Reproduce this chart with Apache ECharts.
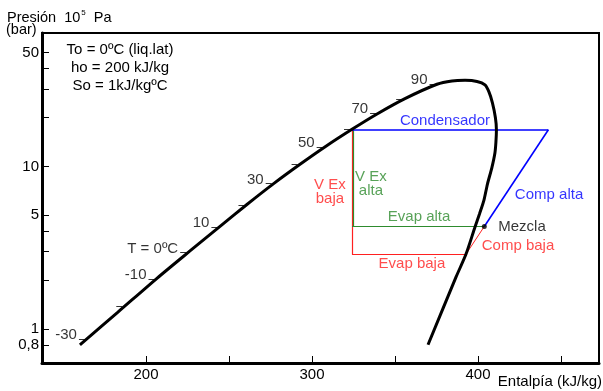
<!DOCTYPE html>
<html>
<head>
<meta charset="utf-8">
<script src="https://cdn.jsdelivr.net/npm/echarts@6/dist/echarts.min.js"></script>
<style>
    html, body { margin: 0; padding: 0; background: #fff; }
    #chart { width: 603px; height: 391px; }
</style>
</head>
<body>
<div id="chart"></div>
<script>
// curva de saturación: entalpía (kJ/kg) y presión (bar)
let satH = [160.2, 183.1, 206.6, 226.5, 244.6, 260.8, 277.1, 292.8, 308.4, 324.1, 339.2, 356.0, 375.3,
    384.3, 392.2, 399.4, 404.2, 406.6, 408.7, 410.5, 411.1, 410.8, 410.2, 408.3, 405.7, 403.6, 400.9,
    398.2, 392.8, 386.8, 369.9]
let satP = [0.8, 1.27, 2.05, 3.02, 4.28, 5.83, 7.86, 10.3, 13.3, 16.9, 21.0, 26.1, 32.0,
    33.5, 33.8, 33.3, 31.7, 28.7, 24.6, 19.9, 16.75, 14.1, 12.1, 9.77, 7.79, 6.21, 5.10,
    4.24, 2.89, 2.09, 0.8]
// isotermas marcadas sobre la línea de líquido (cada 10 ºC)
let tempLabels = ['-30', '', '-10', 'T = 0ºC', '10', '', '30', '', '50', '', '70', '', '90']
let tempH = [164.4, 186.9, 206.3, 225.4, 244.2, 260.5, 276.9, 292.5, 307.6, 324.1, 339.8, 355.5, 375.6]
let tempP = [0.87, 1.375, 2.035, 2.95, 4.24, 5.79, 7.84, 10.27, 13.1, 16.9, 21.2, 25.9, 32.1]
// puntos del ciclo
let hValve = 324.1, hCompAlta = 442.4, hMix = 403.8, hEvapBaja = 392.6
let pCond = 16.8, pMix = 4.27, pBaja = 2.87
// rótulos del ciclo
let cycleText = ['Condensador', 'Comp alta', 'Mezcla', 'Comp baja', 'Evap alta', 'Evap baja', 'V Ex\nalta', 'V Ex\nbaja']
let cycleTextH = [380.1, 442.8, 426.5, 424.1, 364.5, 360.2, 335.5, 310.8]
let cycleTextP = [19.0, 6.67, 4.24, 3.25, 4.86, 2.51, 7.8, 6.99]
let cycleTextColor = ['#0000ff', '#0000ff', '#000', '#ff2020', '#2e8b2e', '#ff2020', '#2e8b2e', '#ff2020']
// ejes
let xTicks = [200, 250, 300, 350, 400, 450]
let xLabels = [200, 300, 400]
let yTicks = [0.8, 1, 2, 3, 4, 5, 10, 20, 30, 40, 50]
let yLabels = [0.8, 1, 5, 10, 50]

let font = "'Liberation Sans', Arial, sans-serif"
let red = '#ff2020', green = '#2e8b2e', blue = '#0000ff'

let seg = function (a, b, color, width) {
    return { coords: [a, b], lineStyle: { color: color, width: width } }
}
let cycleSegs = [
    seg([hValve, pCond], [hValve, pBaja], red, 1.2),
    seg([hValve, pBaja], [hEvapBaja, pBaja], red, 1.2),
    seg([hEvapBaja, pBaja], [hMix, pMix], red, 1),
    seg([hValve + 0.6, pCond], [hValve + 0.6, pMix], green, 1.2),
    seg([hValve, pMix], [hMix, pMix], green, 1.2),
    seg([hValve, pCond], [hCompAlta, pCond], blue, 1.6),
    seg([hCompAlta, pCond], [hMix, pMix], blue, 1.6)
]

// rayitas de temperatura a la izquierda de la curva
let dashSegs = tempH.map(function (h, i) {
    return { coords: [[h - 4.8, tempP[i]], [h - 1.2, tempP[i]]] }
})
let tempPts = []
tempLabels.forEach(function (t, i) {
    if (t) tempPts.push({ value: [tempH[i] - 4.8, tempP[i]], label: { formatter: t } })
})
let labelPts = cycleText.map(function (t, i) {
    return {
        value: [cycleTextH[i], cycleTextP[i]],
        label: { formatter: t, color: cycleTextColor[i], lineHeight: i >= 6 ? 14 : 15 }
    }
})

let myChart = echarts.init(document.getElementById('chart'))
myChart.setOption({
    animation: false,
    textStyle: { fontFamily: font, fontSize: 15, color: '#000' },
    grid: {
        left: 42, right: 4, top: 33, bottom: 28,
        show: true, borderColor: '#000', borderWidth: 2,
        outerBoundsMode: 'none'
    },
    xAxis: {
        type: 'value',
        min: 137.35,
        max: 472.9,
        axisLine: { onZero: false, lineStyle: { color: '#000', width: 3 } },
        axisTick: { inside: true, length: 7, customValues: xTicks, lineStyle: { color: '#000', width: 1 } },
        axisLabel: { customValues: xLabels, color: '#000', fontSize: 15, fontFamily: font, margin: 4 },
        splitLine: { show: false }
    },
    yAxis: {
        type: 'log',
        logBase: 10,
        min: 0.618,
        max: 66.1,
        axisLine: { show: true, onZero: false, lineStyle: { color: '#000', width: 3 } },
        axisTick: { show: true, inside: true, length: 7, customValues: yTicks, lineStyle: { color: '#000', width: 1 } },
        axisLabel: {
            customValues: yLabels, color: '#000', fontSize: 15, fontFamily: font, margin: 3,
            formatter: function (v) { return String(v).replace('.', ',') }
        },
        splitLine: { show: false }
    },
    graphic: [
        {
            type: 'text', x: 7, y: 9,
            style: {
                text: '{a|Presión  10}{s|5}{a| Pa}',
                fontFamily: font,
                rich: {
                    a: { fontSize: 14.5, fontFamily: font, lineHeight: 16, verticalAlign: 'bottom' },
                    s: { fontSize: 8, fontFamily: font, lineHeight: 16, verticalAlign: 'top', padding: [0, 4, 0, 1] }
                }
            }
        },
        {
            type: 'text', x: 6, y: 30,
            style: { text: '(bar)', fontFamily: font, fontSize: 14.5, verticalAlign: 'middle' }
        },
        {
            type: 'text', x: 120, y: 41,
            style: {
                text: 'To = 0ºC (liq.lat)\nho = 200 kJ/kg\nSo = 1kJ/kgºC',
                fontFamily: font, fontSize: 15, lineHeight: 18, align: 'center', verticalAlign: 'top'
            }
        },
        {
            type: 'text', x: 602, y: 382,
            style: { text: 'Entalpía (kJ/kg)', fontFamily: font, fontSize: 15, align: 'right', verticalAlign: 'middle' }
        }
    ],
    series: [
        {
            type: 'lines',
            coordinateSystem: 'cartesian2d',
            silent: true,
            z: 3,
            lineStyle: { color: '#333', width: 1, opacity: 1 },
            data: dashSegs
        },
        {
            type: 'lines',
            coordinateSystem: 'cartesian2d',
            silent: true,
            z: 4,
            lineStyle: { opacity: 1 },
            data: cycleSegs
        },
        {
            type: 'line',
            data: satH.map(function (h, i) { return [h, satP[i]] }),
            smooth: 0.25,
            symbol: 'none',
            z: 5,
            lineStyle: { color: '#000', width: 3 }
        },
        {
            type: 'scatter',
            data: [[hMix, pMix]],
            symbolSize: 5,
            z: 6,
            itemStyle: { color: '#000' }
        },
        {
            type: 'scatter',
            data: tempPts,
            symbolSize: 0,
            label: { show: true, position: 'left', distance: 2, offset: [0, -4], fontSize: 15, fontFamily: font, color: '#000' }
        },
        {
            type: 'scatter',
            data: labelPts,
            symbolSize: 0,
            label: { show: true, position: 'inside', fontSize: 15, fontFamily: font, align: 'center' }
        }
    ]
})
</script>
</body>
</html>
